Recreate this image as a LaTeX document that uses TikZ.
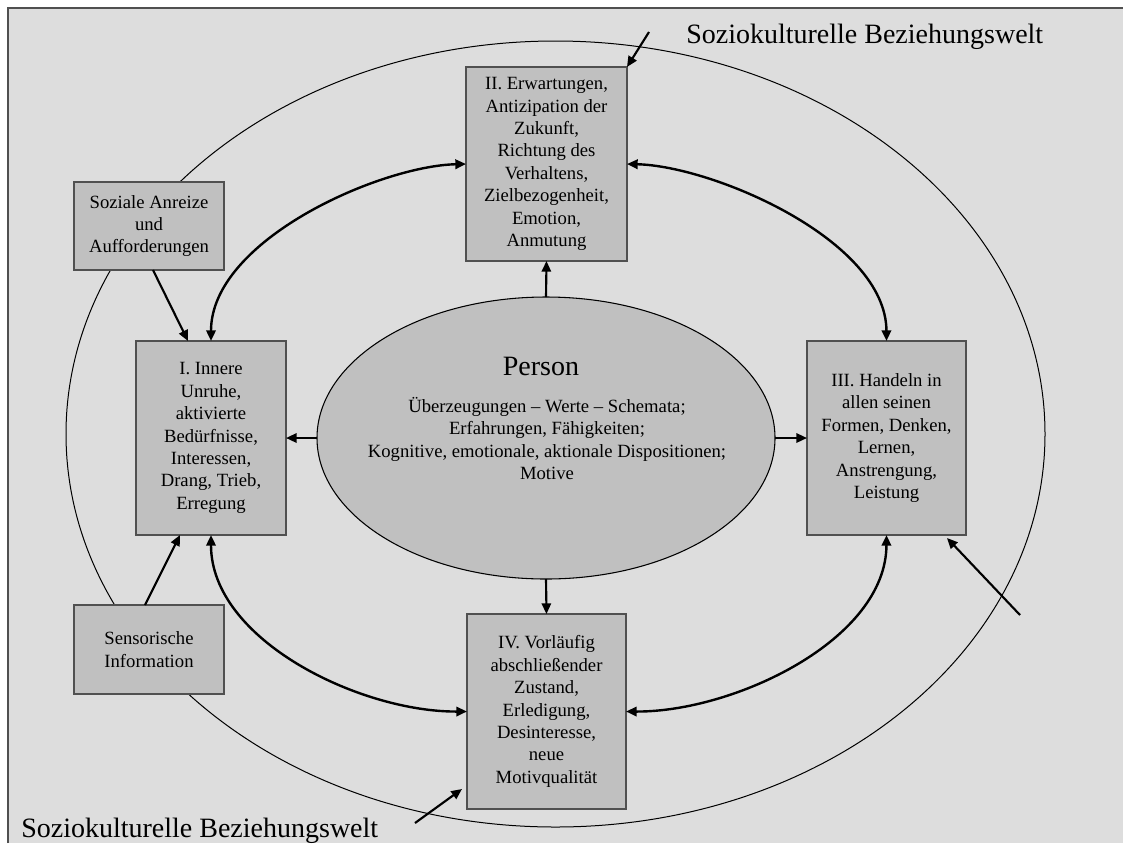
\documentclass[tikz,border=0pt]{standalone}
\usepackage{fontspec}
\setmainfont{Liberation Serif}
\usetikzlibrary{arrows.meta,shapes.geometric,calc}
\definecolor{bggray}{RGB}{221,221,221}
\definecolor{boxgray}{RGB}{192,192,192}
\definecolor{edgegray}{RGB}{80,80,80}
\begin{document}
\begin{tikzpicture}[x=0.75pt,y=-0.75pt,
  stagebox/.style={draw=edgegray,line width=1.1pt,fill=boxgray,inner sep=0pt,outer sep=0pt,align=center,font=\fontsize{14}{16.8}\selectfont,minimum height=145.5pt},
  conn/.style={line width=1.6pt,-{Triangle[length=8pt,width=7pt]}},
  cycle arrow/.style={line width=1.8pt,{Triangle[length=8pt,width=7pt]}-{Triangle[length=8pt,width=7pt]}},
  bigtext/.style={font=\fontsize{21}{25}\selectfont,inner sep=0pt}]
\useasboundingbox (0,0) rectangle (1123,843);
\fill[white] (0,0) rectangle (1123,843);
\fill[bggray] (8,8) rectangle (1123,843);
\draw[edgegray,line width=1.2pt] (8,843) -- (8,8) -- (1123,8);

% outer world ellipse
\node[draw,ellipse,minimum width=734.25pt,minimum height=589.5pt,line width=0.75pt,inner sep=0pt] (world) at (555.5,434) {};

% labels
\node[bigtext,anchor=base west] (toplabel) at (686,43) {Soziokulturelle Beziehungswelt};
\node[bigtext,anchor=base west] (bottomlabel) at (21,837) {Soziokulturelle Beziehungswelt};

% person
\node[draw,ellipse,fill=boxgray,minimum width=343.5pt,minimum height=211.5pt,line width=0.8pt,inner sep=0pt,outer sep=0pt] (person) at (546,438) {};
\node[bigtext] (persontitle) at (541,366) {Person};
\node[align=center,font=\fontsize{14}{16.8}\selectfont,inner sep=0pt] (persontext) at (547,438.5) {Überzeugungen – Werte – Schemata;\\Erfahrungen, Fähigkeiten;\\Kognitive, emotionale, aktionale Dispositionen;\\Motive};

% stage boxes
\node[stagebox,minimum width=120.75pt] (II) at (546.5,164) {II. Erwartungen,\\Antizipation der\\Zukunft,\\Richtung des\\Verhaltens,\\Zielbezogenheit,\\Emotion,\\Anmutung};
\node[stagebox,minimum width=112.5pt] (I) at (211,438) {I. Innere\\Unruhe,\\aktivierte\\Bedürfnisse,\\Interessen,\\Drang, Trieb,\\Erregung};
\node[stagebox,minimum width=119.25pt] (III) at (886.5,438) {III. Handeln in\\allen seinen\\Formen, Denken,\\Lernen,\\Anstrengung,\\Leistung};
\node[stagebox,minimum width=119.25pt,minimum height=146.25pt] (IV) at (546.5,711.5) {IV. Vorläufig\\abschließender\\Zustand,\\Erledigung,\\Desinteresse,\\neue\\Motivqualität};
\node[stagebox,minimum width=112.5pt,minimum height=66pt] (social) at (149,226) {Soziale Anreize\\und\\Aufforderungen};
\node[stagebox,minimum width=112.5pt,minimum height=66.75pt] (sensory) at (149,649.5) {Sensorische\\Information};

% straight connectors
\draw[conn] (person.north) -- (II.south);
\draw[conn] (person.west) -- (I.east);
\draw[conn] (person.east) -- (III.west);
\draw[conn] (person.south) -- (IV.north);
\draw[conn] ($(social.south)+(4,0)$) -- ($(I.north)+(-23,0)$);
\draw[conn] ($(sensory.north)+(-4,0)$) -- ($(I.south)+(-31,0)$);
\coordinate (topstart) at (649,32);
\draw[conn] (topstart) -- (II.north east);
\coordinate (rightstart) at (1020,615);
\draw[conn] (rightstart) -- ($(III.south east)+(-19,3)$);
\coordinate (bottomstart) at (415,823);
\draw[conn] (bottomstart) -- ($(IV.south west)+(-5,-20)$);

% cycle arrows
\draw[cycle arrow] (II.west) .. controls (380,166) and (211,240) .. (I.north);
\draw[cycle arrow] (II.east) .. controls (713,166) and (886,240) .. (III.north);
\draw[cycle arrow] (I.south) .. controls (211,640) and (360,712) .. (IV.west);
\draw[cycle arrow] (IV.east) .. controls (734,712) and (886,640) .. (III.south);
\end{tikzpicture}
\end{document}
